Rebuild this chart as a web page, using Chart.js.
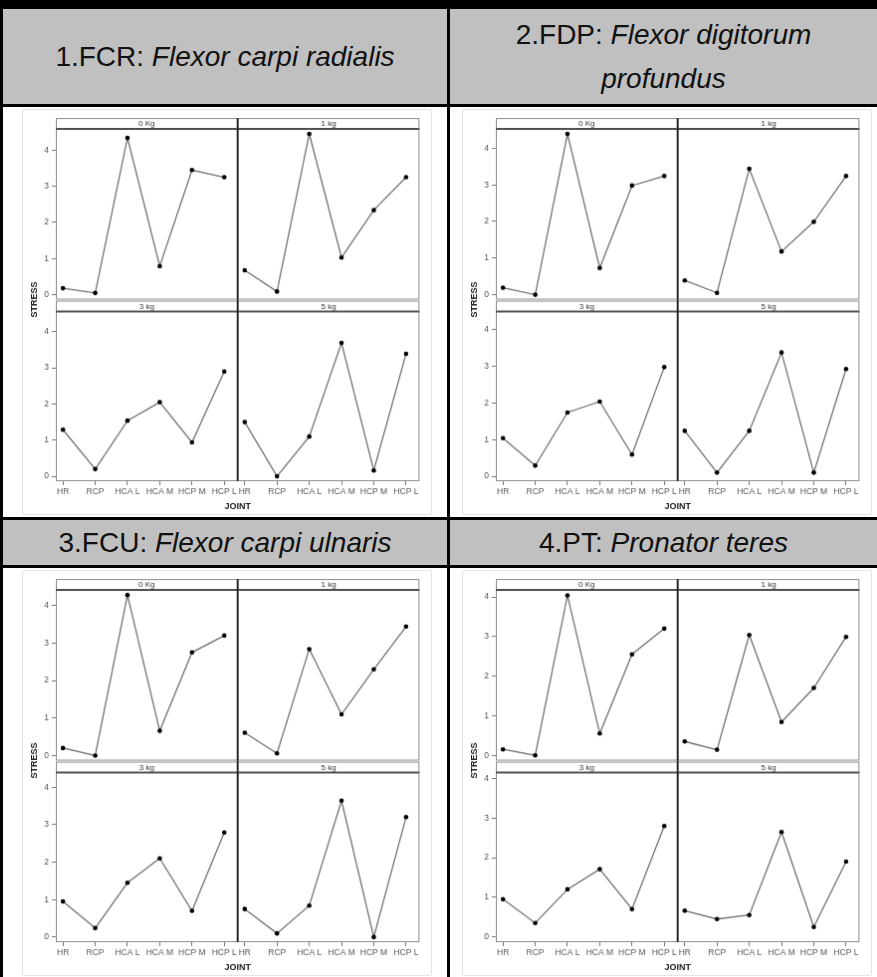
<!DOCTYPE html>
<html>
<head>
<meta charset="utf-8">
<script src="https://cdn.jsdelivr.net/npm/chart.js@4.4.0/dist/chart.umd.min.js"></script>
<style>
  body { margin: 0; width: 877px; height: 977px; background: #000; position: relative; overflow: hidden;
         font-family: 'Liberation Sans', Arial, sans-serif; }
  .cell { position: absolute; background: #fff; }
  .head { background: #c0c0c0; color: #111; font-size: 28px; line-height: 44px; text-align: center;
          display: flex; align-items: center; justify-content: center; }
  canvas { position: absolute; border: 1px solid #e4e4e4; border-radius: 2px; }
</style>
</head>
<body>
<div class="cell head" style="left:3px;top:9px;width:444px;height:95px">
  <div>1.FCR: <i>Flexor carpi radialis</i></div></div>
<div class="cell head" style="left:450px;top:9px;width:427px;height:95px">
  <div>2.FDP: <i>Flexor digitorum</i><br><i>profundus</i></div></div>
<div class="cell" style="left:3px;top:107px;width:444px;height:410px"></div>
<div class="cell" style="left:450px;top:107px;width:427px;height:410px"></div>
<div class="cell head" style="left:3px;top:520px;width:444px;height:45px">
  <div>3.FCU: <i>Flexor carpi ulnaris</i></div></div>
<div class="cell head" style="left:450px;top:520px;width:427px;height:45px">
  <div>4.PT: <i>Pronator teres</i></div></div>
<div class="cell" style="left:3px;top:568px;width:444px;height:409px"></div>
<div class="cell" style="left:450px;top:568px;width:427px;height:409px"></div>

<canvas id="fcr" width="410" height="406" style="left:22px;top:109px"></canvas>
<canvas id="fdp" width="410" height="406" style="left:462px;top:109px"></canvas>
<canvas id="fcu" width="410" height="406" style="left:22px;top:570px"></canvas>
<canvas id="pt" width="410" height="406" style="left:462px;top:570px"></canvas>

<script>
const joints = ['HR', 'RCP', 'HCA L', 'HCA M', 'HCP M', 'HCP L'];
const loads = ['0 Kg', '1 kg', '3 kg', '5 kg'];
const stressTicks = [0, 1, 2, 3, 4];

// stress per joint, one array per muscle and load
const fcr0 = [0.18, 0.05, 4.34, 0.79, 3.45, 3.25];
const fcr1 = [0.68, 0.09, 4.45, 1.03, 2.34, 3.25];
const fcr3 = [1.29, 0.20, 1.54, 2.05, 0.94, 2.90];
const fcr5 = [1.50, 0.00, 1.10, 3.69, 0.16, 3.39];

const fdp0 = [0.19, 0.00, 4.39, 0.73, 2.98, 3.24];
const fdp1 = [0.39, 0.05, 3.44, 1.18, 1.99, 3.24];
const fdp3 = [1.04, 0.29, 1.74, 2.04, 0.59, 2.98];
const fdp5 = [1.24, 0.10, 1.24, 3.38, 0.10, 2.93];

const fcu0 = [0.20, 0.00, 4.28, 0.66, 2.75, 3.20];
const fcu1 = [0.61, 0.06, 2.84, 1.10, 2.30, 3.44];
const fcu3 = [0.95, 0.24, 1.45, 2.10, 0.70, 2.79];
const fcu5 = [0.75, 0.10, 0.84, 3.64, 0.00, 3.20];

const pt0 = [0.15, 0.00, 4.04, 0.55, 2.55, 3.20];
const pt1 = [0.35, 0.14, 3.04, 0.84, 1.70, 2.99];
const pt3 = [0.95, 0.35, 1.20, 1.71, 0.70, 2.80];
const pt5 = [0.66, 0.45, 0.55, 2.65, 0.25, 1.90];

const muscles = [
  { id: 'fcr', series: [fcr0, fcr1, fcr3, fcr5] },
  { id: 'fdp', series: [fdp0, fdp1, fdp3, fdp5] },
  { id: 'fcu', series: [fcu0, fcu1, fcu3, fcu5] },
  { id: 'pt',  series: [pt0, pt1, pt3, pt5] }
];

const FONT = "'Liberation Sans Narrow', 'Liberation Sans', Arial, sans-serif";
const STRIP = 11;      // height of the panel header strip in px
const PANEL = 183;     // height of one panel row including strip
const PAD = 0.135;     // data padding on the stress axis

// panel frames, header strips and the shared axis titles
const lattice = {
  id: 'lattice',
  beforeDatasetsDraw(chart) {
    const ctx = chart.ctx;
    const cols = [chart.scales.xL, chart.scales.xR];
    const rows = [chart.scales.yT, chart.scales.yB];
    ctx.save();
    rows.forEach((ys, r) => cols.forEach((xs, c) => {
      const l = xs.left, rt = xs.right, t = ys.top + (r ? 1 : 0), b = ys.bottom;
      ctx.strokeStyle = '#8c8c8c';
      ctx.lineWidth = 1;
      ctx.strokeRect(l + 0.5, t + 0.5, rt - l - 1, b - t - 1);
      ctx.strokeStyle = '#505050';
      ctx.lineWidth = 2;
      ctx.beginPath();
      ctx.moveTo(l, t + STRIP);
      ctx.lineTo(rt, t + STRIP);
      ctx.stroke();
      ctx.fillStyle = '#333';
      ctx.font = '8px ' + FONT;
      ctx.textAlign = 'center';
      ctx.textBaseline = 'middle';
      ctx.fillText(loads[r * 2 + c], (l + rt) / 2, t + STRIP / 2 + 0.5);
    }));
    const a = chart.chartArea;
    ctx.strokeStyle = '#222';
    ctx.lineWidth = 1.6;
    ctx.beginPath();
    ctx.moveTo(chart.scales.xL.right, a.top);
    ctx.lineTo(chart.scales.xL.right, a.bottom);
    ctx.stroke();
    ctx.restore();
  },
  afterDraw(chart) {
    const ctx = chart.ctx;
    const a = chart.chartArea;
    ctx.save();
    ctx.fillStyle = '#222';
    ctx.font = 'bold 9px ' + FONT;
    ctx.textAlign = 'center';
    ctx.textBaseline = 'middle';
    ctx.fillText('JOINT', chart.scales.xL.right, a.bottom + 26);
    ctx.translate(12, (a.top + a.bottom) / 2);
    ctx.rotate(-Math.PI / 2);
    ctx.fillText('STRESS', 0, 0);
    ctx.restore();
  }
};

function yAxis(lo, hi) {
  return {
    type: 'linear', position: 'left', stack: 'rows', stackWeight: 1,
    min: lo, max: hi + (hi - lo) * STRIP / (PANEL - STRIP),
    afterBuildTicks: s => { s.ticks = stressTicks.map(v => ({ value: v })); },
    afterFit: s => { s.width = 33; },
    grid: { drawOnChartArea: false, tickLength: 4, color: '#777' },
    border: { display: false },
    ticks: { color: '#555', padding: 3, font: { size: 8.5, family: FONT } }
  };
}

function xAxis() {
  return {
    type: 'linear', position: 'bottom', stack: 'cols', stackWeight: 1,
    min: -0.22, max: 5.415,
    afterBuildTicks: s => { s.ticks = joints.map((j, i) => ({ value: i })); },
    afterFit: s => { s.height = 33; },
    grid: { drawOnChartArea: false, tickLength: 4, color: '#777' },
    border: { display: false },
    ticks: { autoSkip: false, maxRotation: 0, color: '#555', padding: 2,
             font: { size: 8.5, family: FONT }, callback: v => joints[v] }
  };
}

muscles.forEach(m => {
  const top = Math.max(...m.series.flat());
  const lo = -PAD, hi = top + PAD;
  new Chart(document.getElementById(m.id), {
    type: 'line',
    data: {
      datasets: m.series.map((vals, k) => ({
        label: loads[k],
        data: vals.map((v, i) => ({ x: i, y: v })),
        xAxisID: k % 2 ? 'xR' : 'xL',
        yAxisID: k < 2 ? 'yT' : 'yB',
        borderColor: '#727272',
        borderWidth: 1.3,
        pointRadius: 2.3,
        pointBackgroundColor: '#000',
        pointBorderWidth: 0,
        tension: 0
      }))
    },
    options: {
      responsive: false,
      animation: false,
      devicePixelRatio: 1,
      layout: { padding: { top: 7, right: 5, left: 0, bottom: 0 } },
      plugins: { legend: { display: false }, tooltip: { enabled: false } },
      // left-side stacks are placed in reverse, so the lower row is listed first
      scales: {
        yB: yAxis(lo, hi),
        yT: yAxis(lo, hi),
        xL: xAxis(),
        xR: xAxis()
      }
    },
    plugins: [lattice]
  });
});
</script>
</body>
</html>
